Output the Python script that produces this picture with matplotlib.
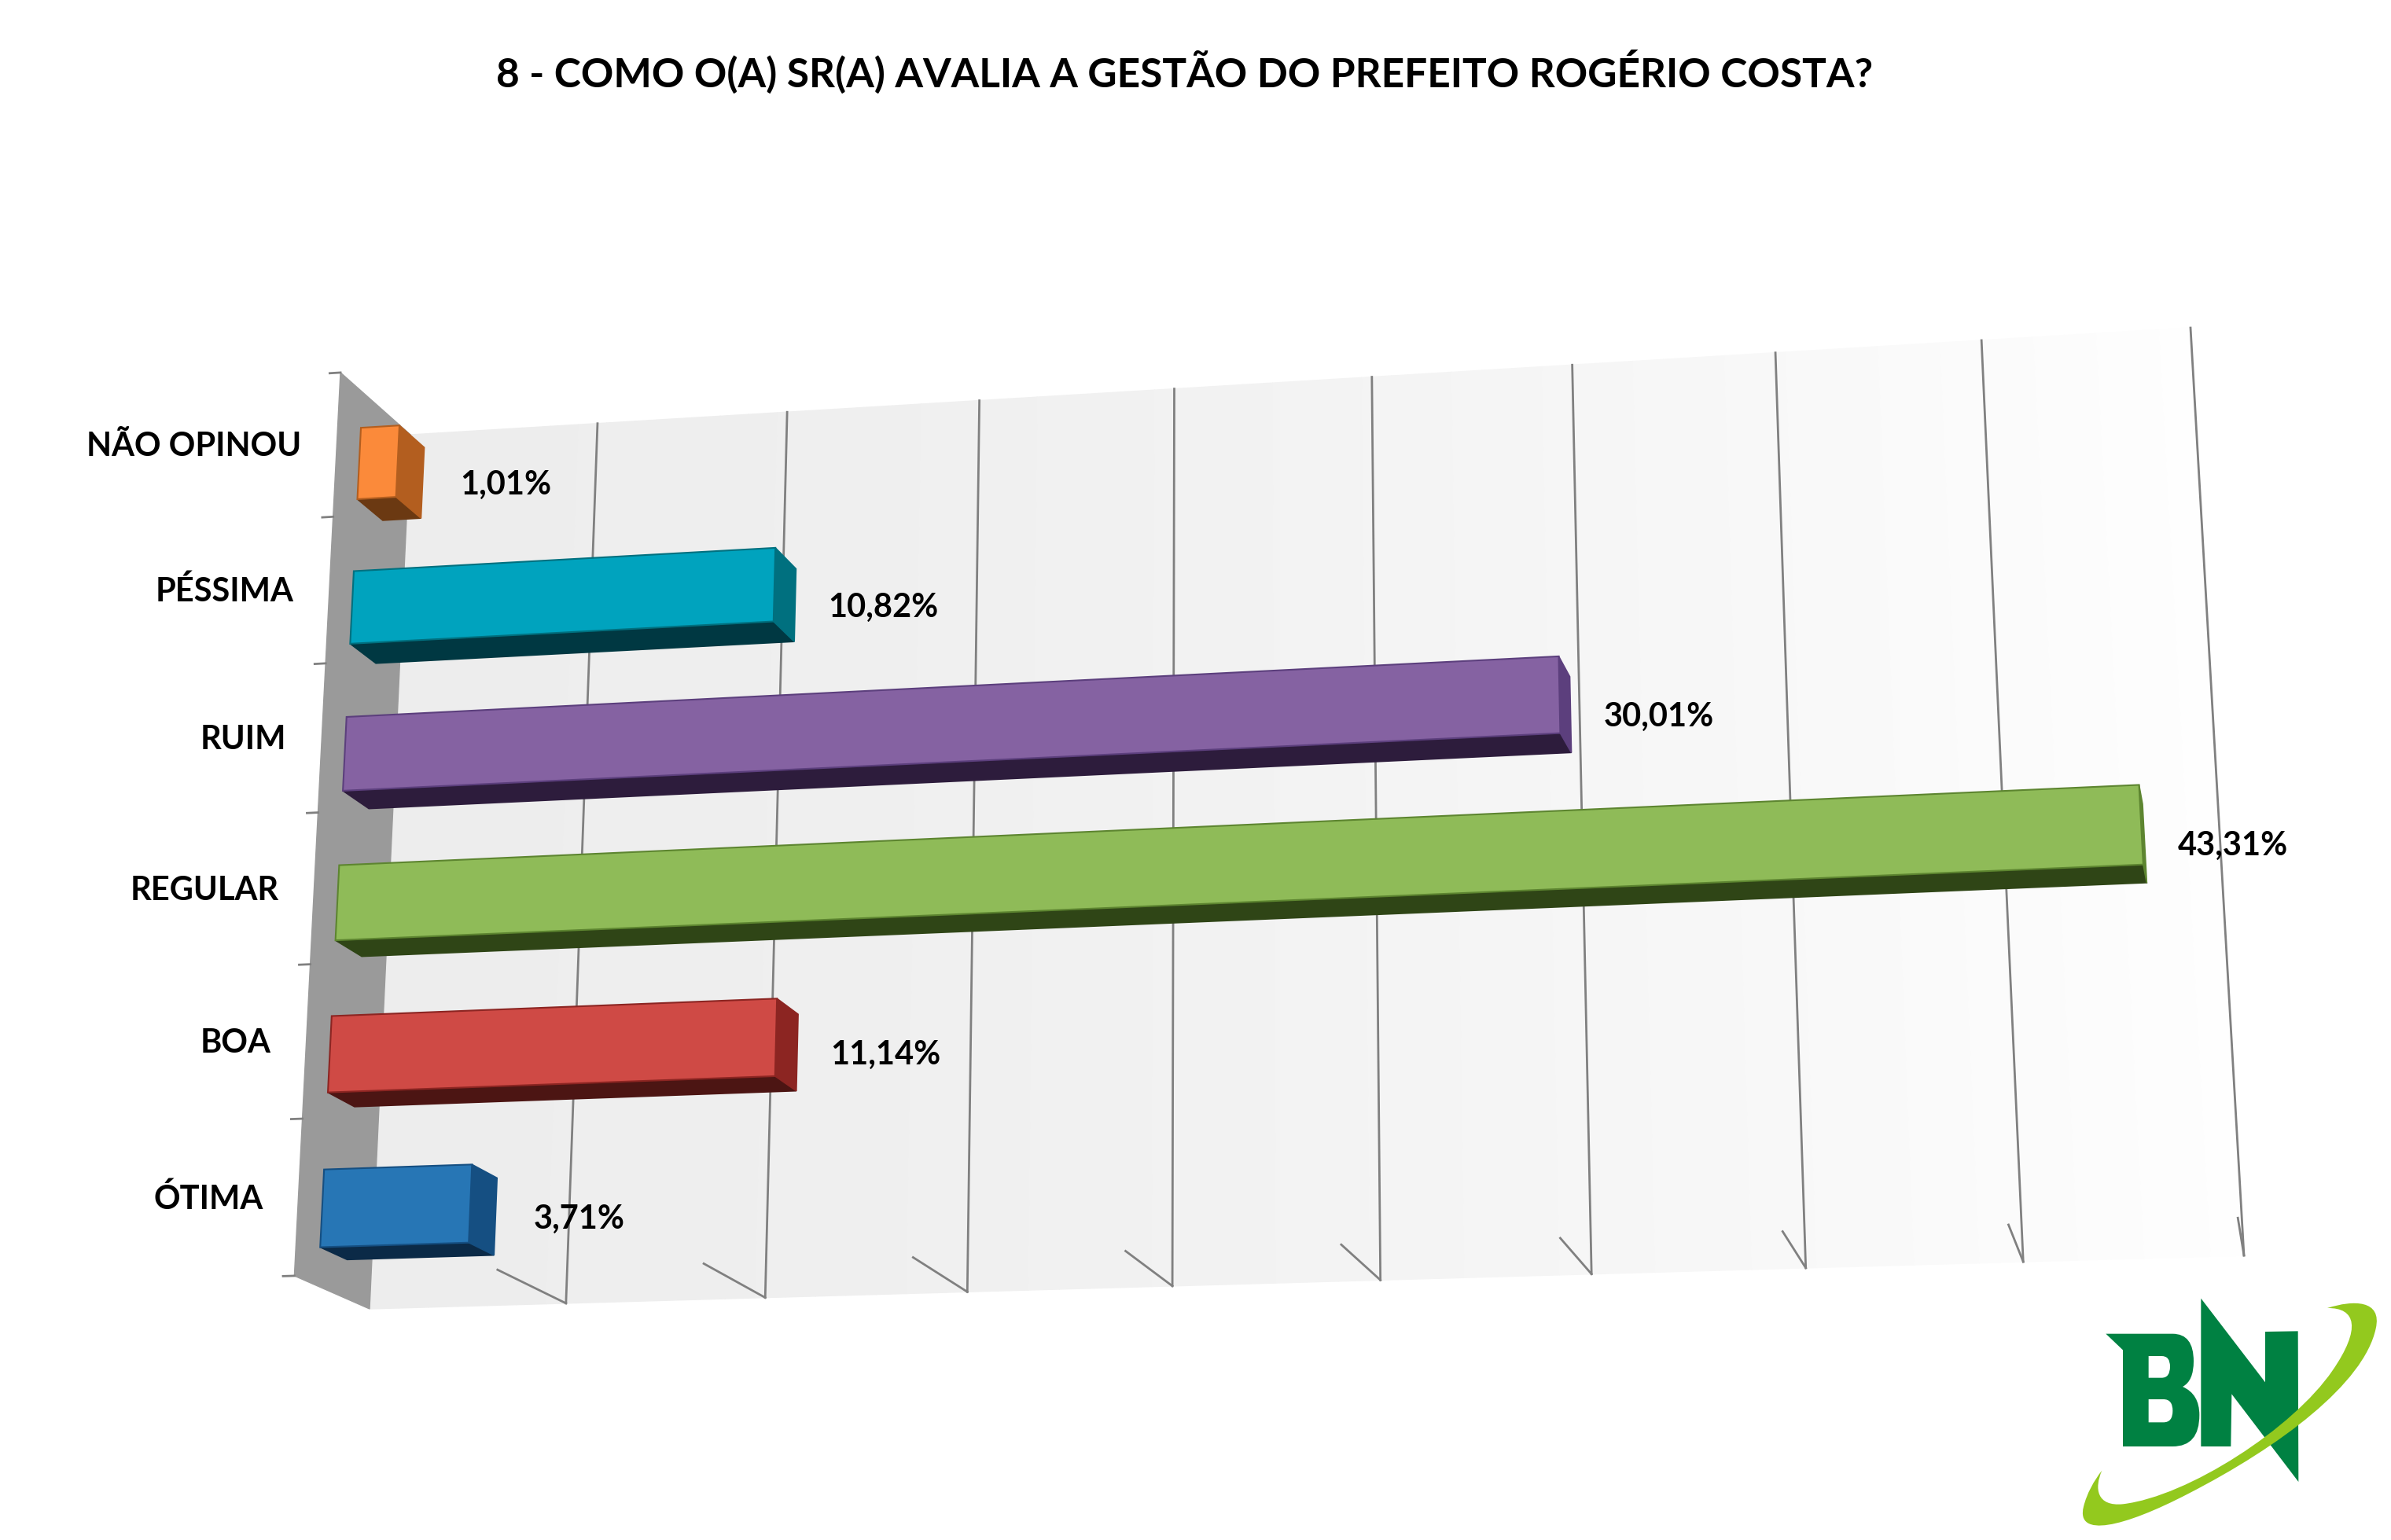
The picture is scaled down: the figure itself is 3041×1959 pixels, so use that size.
import numpy as np
import matplotlib
matplotlib.use("Agg")
import matplotlib.pyplot as plt
import matplotlib.transforms as mtransforms
from matplotlib.patches import Polygon, PathPatch
from matplotlib.lines import Line2D
from matplotlib.path import Path

# data, bottom row first
categories = ["ÓTIMA", "BOA", "REGULAR", "RUIM", "PÉSSIMA", "NÃO OPINOU"]
values = [3.71, 11.14, 43.31, 30.01, 10.82, 1.01]
front_colors = ["#2776b5", "#cf4a45", "#8fbb58", "#8562a2", "#00a3be", "#fb8a3a"]
side_colors = ["#154f82", "#8c2522", "#5d8530", "#5c3f7d", "#00707f", "#b35e1f"]
bottom_colors = ["#0b2a47", "#4c1513", "#2f4516", "#2d1c3c", "#003842", "#6b3912"]
x_ticks = np.arange(0, 50, 5)
title = "8 - COMO O(A) SR(A) AVALIA A GESTÃO DO PREFEITO ROGÉRIO COSTA?"

W, H = 3041, 1959
plt.rcParams['font.family'] = ['Lato', 'DejaVu Sans']
fig = plt.figure(figsize=(W / 100, H / 100), dpi=100)
ax = fig.add_axes([0, 0, 1, 1])
ax.set_axis_off()

# layout of the 3d box: back wall corners in image pixels, vanishing point of depth
x_max = x_ticks[-1]
y_max = len(categories)
wall_src = [(0, 0), (0, y_max), (x_max, y_max), (x_max, 0)]
wall_dst = [(470, 1665), (522, 553), (2786, 417), (2854, 1597)]
vanish = (3050, 2800)
depth_frac = 0.034
bar_half = 0.25
bar_z = (-0.69, -0.33)   # wall front is z=-1, back wall z=0


def homography(src, dst):
    A, b = [], []
    for (x, y), (u, v) in zip(src, dst):
        A.append([x, y, 1, 0, 0, 0, -u * x, -u * y]); b.append(u)
        A.append([0, 0, 0, x, y, 1, -v * x, -v * y]); b.append(v)
    h = np.linalg.solve(np.array(A, float), np.array(b, float))
    return np.append(h, 1).reshape(3, 3)


Hm = homography(wall_src, wall_dst)
s_ref = Hm[2] @ np.array([0, y_max, 1])
k = depth_frac * s_ref
P = np.column_stack([Hm[:, 0], Hm[:, 1], k * np.array([vanish[0], vanish[1], 1.0]), Hm[:, 2]])


class PlaneProjection(mtransforms.Transform):
    input_dims = output_dims = 2
    is_separable = False
    has_inverse = False

    def __init__(self, fixed, value):
        super().__init__()
        self.fixed = fixed
        self.value = value
        self.free = [i for i in range(3) if i != fixed]

    def transform_non_affine(self, pts):
        pts = np.asarray(pts, float).reshape(-1, 2)
        w = np.zeros((len(pts), 4))
        w[:, self.free] = pts
        w[:, self.fixed] = self.value
        w[:, 3] = 1
        h = w @ P.T
        return h[:, :2] / h[:, 2:3]


img_to_disp = mtransforms.Affine2D().scale(0.01, -0.01).translate(0, H / 100) + fig.dpi_scale_trans


def plane(fixed, value):
    # fixed: 0 -> x (value), 1 -> y (category), 2 -> z (depth)
    return PlaneProjection(fixed, value) + img_to_disp


# back wall with a soft gradient
xs = np.linspace(0, x_max, 61)
for xa, xb in zip(xs[:-1], xs[1:]):
    g = 0.93 + 0.066 * (xa / x_max) ** 1.6
    c = (g, g, g)
    ax.add_patch(Polygon([(xa, 0), (xb, 0), (xb, y_max), (xa, y_max)], closed=True,
                         facecolor=c, edgecolor=c, lw=1, transform=plane(2, 0), zorder=1))

# gridlines on the back wall and on the floor
for xv in x_ticks[1:]:
    ax.add_line(Line2D([xv, xv], [0, y_max], color="#808080", lw=2.0,
                       transform=plane(2, 0), zorder=2))
    ax.add_line(Line2D([xv, xv], [0, -1], color="#808080", lw=2.0,
                       transform=plane(1, 0), zorder=2))

# grey side wall at x=0
ax.add_patch(Polygon([(0, -1), (y_max, -1), (y_max, 0), (0, 0)], closed=True,
                     facecolor="#9a9a9a", edgecolor="#9a9a9a", lw=1,
                     transform=plane(0, 0), zorder=3))
for yv in range(y_max + 1):
    ax.add_line(Line2D([-0.28, 0], [yv, yv], color="#808080", lw=2.0,
                       transform=plane(2, -1), zorder=3))

# bars
z0, z1 = bar_z
for i, (cat, v) in enumerate(zip(categories, values)):
    y0, y1 = i + 0.5 - bar_half, i + 0.5 + bar_half
    zo = 10 + i
    ax.add_patch(Polygon([(0, z0), (v, z0), (v, z1), (0, z1)], closed=True,
                         facecolor=bottom_colors[i], edgecolor=bottom_colors[i], lw=1.2,
                         transform=plane(1, y0), zorder=zo))
    ax.add_patch(Polygon([(y0, z0), (y1, z0), (y1, z1), (y0, z1)], closed=True,
                         facecolor=side_colors[i], edgecolor=side_colors[i], lw=1.2,
                         transform=plane(0, v), zorder=zo))
    ax.add_patch(Polygon([(0, y0), (v, y0), (v, y1), (0, y1)], closed=True,
                         facecolor=front_colors[i], edgecolor=side_colors[i], lw=1.5,
                         transform=plane(2, z0), zorder=zo + 0.5))

    ax.annotate(cat, xy=(0, i + 0.5), xycoords=plane(2, -1),
                xytext=(-45, -15), textcoords="offset pixels",
                ha="right", va="baseline", fontsize=30, fontweight="bold", zorder=30)
    ax.annotate(f"{v:.2f}".replace(".", ",") + "%", xy=(v, i + 0.5), xycoords=plane(2, z1),
                xytext=(48 if v < 5 else 42, -15), textcoords="offset pixels",
                ha="left", va="baseline", fontsize=30, fontweight="bold", zorder=30)

fig.text(1507 / W, 1 - 111 / H, title, ha="center", va="baseline",
         fontsize=37, fontweight="bold")

# BN logo, drawn in local units of a 3x crop
logo_tr = mtransforms.Affine2D().scale(1 / 3).translate(2550, 1600) + img_to_disp
M, L, C, Z = Path.MOVETO, Path.LINETO, Path.CURVE3, Path.CLOSEPOLY
b_verts = [(385, 290), (640, 290), (720, 290), (720, 395), (720, 470), (678, 492),
           (742, 520), (742, 600), (742, 720), (640, 720), (450, 720), (450, 352), (385, 290),
           (548, 375), (548, 458), (598, 458), (630, 458), (630, 415), (630, 375), (598, 375),
           (548, 375),
           (548, 540), (548, 628), (605, 628), (640, 628), (640, 584), (640, 540), (605, 540),
           (548, 540)]
b_codes = [M, L, C, C, C, C, C, C, C, C, L, L, Z,
           M, L, L, C, C, C, C, Z,
           M, L, L, C, C, C, C, Z]
ax.add_patch(PathPatch(Path(b_verts, b_codes), facecolor="#008142", edgecolor="none",
                       transform=logo_tr, zorder=40))
ax.add_patch(Polygon([(748, 720), (748, 155), (993, 475), (993, 282), (1118, 280),
                      (1120, 855), (865, 520), (862, 720)], closed=True,
                     facecolor="#008142", edgecolor="none", transform=logo_tr, zorder=40))
C4 = Path.CURVE4
sw_verts = [(1230, 192),
            (1330, 160), (1440, 160), (1415, 270),
            (1370, 480), (1050, 720), (700, 900),
            (450, 1030), (270, 1070), (300, 950),
            (312, 900), (340, 850), (370, 812),
            (340, 880), (350, 950), (450, 940),
            (700, 910), (1100, 650), (1250, 430),
            (1360, 270), (1340, 190), (1230, 192),
            (1230, 192)]
sw_codes = [M] + [C4] * 21 + [Z]
ax.add_patch(PathPatch(Path(sw_verts, sw_codes), facecolor="#93c91e", edgecolor="none",
                       transform=logo_tr, zorder=41))

fig.savefig("out.png", dpi=100, facecolor="white")
